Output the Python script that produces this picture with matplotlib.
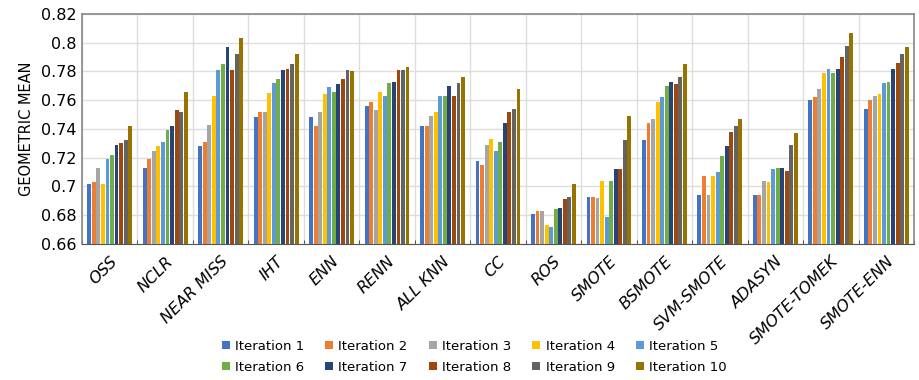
import matplotlib

matplotlib.use("Agg")
import matplotlib.pyplot as plt
import numpy as np

methods = ["OSS", "NCLR", "NEAR MISS", "IHT", "ENN", "RENN", "ALL KNN", "CC",
           "ROS", "SMOTE", "BSMOTE", "SVM-SMOTE", "ADASYN", "SMOTE-TOMEK",
           "SMOTE-ENN"]
iterations = [f"Iteration {i}" for i in range(1, 11)]

# geometric mean per method, one list per method (iteration 1..10)
gmean = [
    [0.702, 0.703, 0.713, 0.702, 0.719, 0.722, 0.729, 0.730, 0.732, 0.742],
    [0.713, 0.719, 0.725, 0.728, 0.731, 0.739, 0.742, 0.753, 0.752, 0.766],
    [0.728, 0.731, 0.743, 0.763, 0.781, 0.785, 0.797, 0.781, 0.792, 0.803],
    [0.748, 0.752, 0.752, 0.765, 0.772, 0.775, 0.781, 0.782, 0.785, 0.792],
    [0.748, 0.742, 0.752, 0.764, 0.769, 0.766, 0.771, 0.775, 0.781, 0.780],
    [0.756, 0.759, 0.753, 0.766, 0.763, 0.772, 0.773, 0.781, 0.781, 0.783],
    [0.742, 0.742, 0.749, 0.752, 0.763, 0.763, 0.770, 0.763, 0.772, 0.776],
    [0.718, 0.715, 0.729, 0.733, 0.725, 0.731, 0.744, 0.752, 0.754, 0.768],
    [0.681, 0.683, 0.683, 0.673, 0.672, 0.684, 0.685, 0.691, 0.693, 0.702],
    [0.693, 0.693, 0.692, 0.704, 0.679, 0.704, 0.712, 0.712, 0.732, 0.749],
    [0.732, 0.744, 0.747, 0.759, 0.762, 0.770, 0.773, 0.771, 0.776, 0.785],
    [0.694, 0.707, 0.694, 0.707, 0.710, 0.721, 0.728, 0.738, 0.742, 0.747],
    [0.694, 0.694, 0.704, 0.703, 0.712, 0.713, 0.713, 0.711, 0.729, 0.737],
    [0.760, 0.762, 0.768, 0.779, 0.782, 0.779, 0.782, 0.790, 0.798, 0.807],
    [0.754, 0.760, 0.763, 0.764, 0.772, 0.773, 0.782, 0.786, 0.792, 0.797],
]

colors = ["#4472C4", "#ED7D31", "#A5A5A5", "#FFC000", "#5B9BD5",
          "#70AD47", "#264478", "#9E480E", "#636363", "#997300"]

yticks = [0.66, 0.68, 0.70, 0.72, 0.74, 0.76, 0.78, 0.80, 0.82]
ytick_labels = ["0.66", "0.68", "0.7", "0.72", "0.74", "0.76", "0.78", "0.8", "0.82"]

data = np.array(gmean)
x = np.arange(len(methods))
width = 0.082

fig, ax = plt.subplots(figsize=(9.19, 3.8), dpi=100)
fig.subplots_adjust(left=82 / 919, right=914 / 919, top=1 - 14 / 380,
                    bottom=1 - 244 / 380)

for k, (label, color) in enumerate(zip(iterations, colors)):
    offset = (k - 4.5) * width
    ax.bar(x + offset, data[:, k], width * 0.85, color=color, label=label,
           zorder=3)

ax.set_ylim(0.66, 0.82)
ax.set_xlim(-0.5, len(methods) - 0.5)
ax.set_yticks(yticks)
ax.set_yticklabels(ytick_labels, fontsize=11.5)
ax.set_xticks(x)
ax.set_xticklabels(methods, rotation=45, ha="right", rotation_mode="anchor",
                   fontsize=11.5, style="italic")
ax.tick_params(axis="x", length=0, pad=7)
ax.tick_params(axis="y", length=0, pad=4)
ax.set_xticks(np.arange(-0.5, len(methods)), minor=True)
ax.tick_params(axis="x", which="minor", direction="in", length=3,
               color="#333333")
ax.grid(axis="y", color="#dddddd", linewidth=1, zorder=0)
ax.grid(axis="x", which="minor", color="#dddddd", linewidth=1, zorder=0)
ax.set_ylabel("GEOMETRIC MEAN", fontsize=10.5, labelpad=5)

for side in ["top", "right", "left"]:
    ax.spines[side].set_color("#888888")
    ax.spines[side].set_linewidth(1.2)
ax.spines["bottom"].set_color("#555555")

# legend fills row by row in the reference: 1-5 on top, 6-10 below
handles, labels = ax.get_legend_handles_labels()
order = [0, 5, 1, 6, 2, 7, 3, 8, 4, 9]
fig.legend([handles[i] for i in order], [labels[i] for i in order],
           loc="lower center", bbox_to_anchor=(0.516, -0.015), ncol=5,
           frameon=False, fontsize=9.5, handlelength=0.6, handleheight=0.6,
           handletextpad=0.4, columnspacing=1.6, labelspacing=0.6)

fig.savefig("out.png", dpi=100)
